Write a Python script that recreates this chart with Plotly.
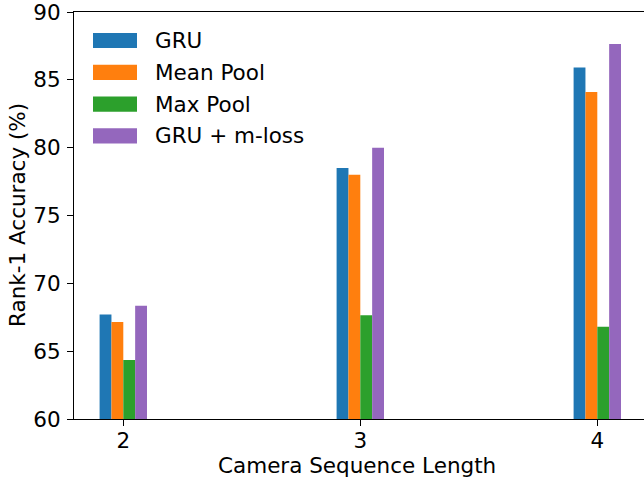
import plotly.graph_objects as go

# Camera sequence lengths on the x axis
seq_lengths = [2, 3, 4]

# Rank-1 accuracy (%) for each method
gru = [67.7, 78.5, 85.9]
mean_pool = [67.15, 78.0, 84.1]
max_pool = [64.35, 67.65, 66.8]
gru_mloss = [68.35, 80.0, 87.65]

series_names = ["GRU", "Mean Pool", "Max Pool", "GRU + m-loss"]
series_values = [gru, mean_pool, max_pool, gru_mloss]
colors = ["#1f77b4", "#ff7f0e", "#2ca02c", "#9467bd"]

y_ticks = [60, 65, 70, 75, 80, 85, 90]

FONT = "DejaVu Sans"
FS = 21.5
BAR_W = 0.05

fig = go.Figure()
for i, (name, vals, col) in enumerate(zip(series_names, series_values, colors)):
    fig.add_trace(go.Bar(
        x=seq_lengths, y=vals, name=name,
        width=BAR_W, offset=-2 * BAR_W + i * BAR_W,
        marker=dict(color=col, line=dict(width=0)),
    ))

W, H = 644, 480
L, R, T, B = 74, 0, 12, 61
plot_h = H - T - B
plot_w = W - L - R

fig.update_layout(
    width=W, height=H,
    margin=dict(l=L, r=R, t=T, b=B, pad=0),
    paper_bgcolor="white", plot_bgcolor="white",
    font=dict(family=FONT, size=FS, color="black"),
    showlegend=False,
    barmode="overlay",
    xaxis=dict(
        range=[1.792, 1.792 + plot_w / 237.0],
        tickvals=seq_lengths, ticktext=[str(v) for v in seq_lengths],
        ticks="outside", ticklen=6, tickwidth=1.1, tickcolor="black",
        showline=True, linecolor="black", linewidth=1.1, mirror=True,
        showgrid=False, zeroline=False,
        tickfont=dict(family=FONT, size=FS, color="black"),
        ticklabelstandoff=-4,
    ),
    yaxis=dict(
        range=[60, 90],
        tickvals=y_ticks,
        ticks="outside", ticklen=6, tickwidth=1.1, tickcolor="black",
        showline=True, linecolor="black", linewidth=1.1, mirror=False,
        showgrid=False, zeroline=False,
        tickfont=dict(family=FONT, size=FS, color="black"),
        ticklabelstandoff=2,
        ticklabeloverflow="allow",
    ),
)

# Axis titles
fig.add_annotation(
    text="Camera Sequence Length", xref="paper", yref="paper",
    x=(356.7 - L) / plot_w, y=-(465 - (T + plot_h)) / plot_h,
    xanchor="center", yanchor="middle", showarrow=False,
    font=dict(family=FONT, size=FS, color="black"),
)
fig.add_annotation(
    text="Rank-1 Accuracy (%)", xref="paper", yref="paper",
    x=-(L - 17.5) / plot_w, y=0.5, textangle=-90,
    xanchor="center", yanchor="middle", showarrow=False,
    font=dict(family=FONT, size=FS, color="black"),
)

# Legend drawn as colour patches with labels (upper left, no frame)
leg_y = [40.5, 72.3, 104.1, 135.9]
for name, col, yc in zip(series_names, colors, leg_y):
    y0 = 1 - (yc - 7.6 - T) / plot_h
    y1 = 1 - (yc + 7.6 - T) / plot_h
    fig.add_shape(
        type="rect", xref="paper", yref="paper",
        x0=(93 - L) / plot_w, x1=(137 - L) / plot_w, y0=y1, y1=y0,
        fillcolor=col, line=dict(width=0), layer="above",
    )
    fig.add_annotation(
        text=name, xref="paper", yref="paper",
        x=(153 - L) / plot_w, y=1 - (yc - T) / plot_h,
        xanchor="left", yanchor="middle", showarrow=False,
        font=dict(family=FONT, size=FS, color="black"),
    )

fig.write_html("out.html")
